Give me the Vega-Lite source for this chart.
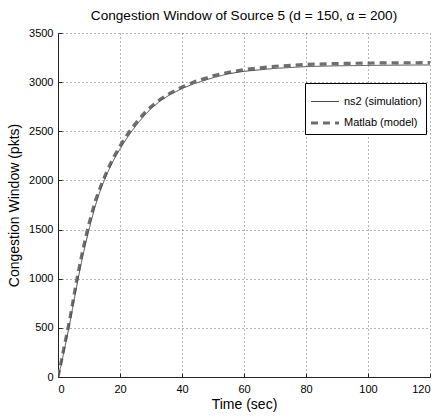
{
  "$schema": "https://vega.github.io/schema/vega-lite/v6.json",
  "width": 372,
  "height": 344,
  "autosize": {"type": "none"},
  "padding": {"left": 58, "top": 33, "right": 9, "bottom": 40},
  "background": "white",
  "title": {
    "text": "Congestion Window of Source 5 (d = 150, α = 200)",
    "font": "Liberation Sans",
    "fontSize": 13.6,
    "fontWeight": "normal",
    "color": "black",
    "anchor": "middle",
    "frame": "group",
    "offset": 4
  },
  "config": {
    "view": {"stroke": null},
    "font": "Liberation Sans",
    "axis": {
      "labelFont": "Liberation Sans",
      "titleFont": "Liberation Sans",
      "labelFontSize": 11,
      "titleFontSize": 14,
      "titleFontWeight": "normal",
      "labelColor": "black",
      "titleColor": "black",
      "domainColor": "#222",
      "domainWidth": 1,
      "tickColor": "#222",
      "tickSize": -4,
      "gridColor": "#666",
      "gridDash": [1, 3],
      "gridWidth": 1,
      "gridOpacity": 1,
      "format": "d"
    }
  },
  "data": {
    "values": [
      {"t": 0, "w": 0, "s": "Matlab (model)"},
      {"t": 1, "w": 150, "s": "Matlab (model)"},
      {"t": 2, "w": 310, "s": "Matlab (model)"},
      {"t": 3, "w": 460, "s": "Matlab (model)"},
      {"t": 4, "w": 620, "s": "Matlab (model)"},
      {"t": 5, "w": 800, "s": "Matlab (model)"},
      {"t": 6, "w": 980, "s": "Matlab (model)"},
      {"t": 7, "w": 1140, "s": "Matlab (model)"},
      {"t": 8, "w": 1290, "s": "Matlab (model)"},
      {"t": 9, "w": 1430, "s": "Matlab (model)"},
      {"t": 10, "w": 1560, "s": "Matlab (model)"},
      {"t": 12, "w": 1790, "s": "Matlab (model)"},
      {"t": 14, "w": 1960, "s": "Matlab (model)"},
      {"t": 16, "w": 2110, "s": "Matlab (model)"},
      {"t": 18, "w": 2240, "s": "Matlab (model)"},
      {"t": 20, "w": 2350, "s": "Matlab (model)"},
      {"t": 22, "w": 2450, "s": "Matlab (model)"},
      {"t": 24, "w": 2540, "s": "Matlab (model)"},
      {"t": 26, "w": 2620, "s": "Matlab (model)"},
      {"t": 28, "w": 2690, "s": "Matlab (model)"},
      {"t": 30, "w": 2750, "s": "Matlab (model)"},
      {"t": 33, "w": 2825, "s": "Matlab (model)"},
      {"t": 36, "w": 2885, "s": "Matlab (model)"},
      {"t": 40, "w": 2950, "s": "Matlab (model)"},
      {"t": 44, "w": 3005, "s": "Matlab (model)"},
      {"t": 50, "w": 3065, "s": "Matlab (model)"},
      {"t": 55, "w": 3100, "s": "Matlab (model)"},
      {"t": 60, "w": 3128, "s": "Matlab (model)"},
      {"t": 70, "w": 3162, "s": "Matlab (model)"},
      {"t": 80, "w": 3180, "s": "Matlab (model)"},
      {"t": 90, "w": 3189, "s": "Matlab (model)"},
      {"t": 100, "w": 3194, "s": "Matlab (model)"},
      {"t": 110, "w": 3197, "s": "Matlab (model)"},
      {"t": 120, "w": 3198, "s": "Matlab (model)"},
      {"t": 0, "w": 0, "s": "ns2 (simulation)"},
      {"t": 1, "w": 120, "s": "ns2 (simulation)"},
      {"t": 2, "w": 270, "s": "ns2 (simulation)"},
      {"t": 3, "w": 420, "s": "ns2 (simulation)"},
      {"t": 4, "w": 580, "s": "ns2 (simulation)"},
      {"t": 5, "w": 750, "s": "ns2 (simulation)"},
      {"t": 6, "w": 920, "s": "ns2 (simulation)"},
      {"t": 7, "w": 1080, "s": "ns2 (simulation)"},
      {"t": 8, "w": 1230, "s": "ns2 (simulation)"},
      {"t": 9, "w": 1370, "s": "ns2 (simulation)"},
      {"t": 10, "w": 1500, "s": "ns2 (simulation)"},
      {"t": 12, "w": 1740, "s": "ns2 (simulation)"},
      {"t": 14, "w": 1930, "s": "ns2 (simulation)"},
      {"t": 16, "w": 2080, "s": "ns2 (simulation)"},
      {"t": 18, "w": 2210, "s": "ns2 (simulation)"},
      {"t": 20, "w": 2320, "s": "ns2 (simulation)"},
      {"t": 22, "w": 2420, "s": "ns2 (simulation)"},
      {"t": 24, "w": 2510, "s": "ns2 (simulation)"},
      {"t": 26, "w": 2590, "s": "ns2 (simulation)"},
      {"t": 28, "w": 2665, "s": "ns2 (simulation)"},
      {"t": 30, "w": 2730, "s": "ns2 (simulation)"},
      {"t": 33, "w": 2810, "s": "ns2 (simulation)"},
      {"t": 36, "w": 2870, "s": "ns2 (simulation)"},
      {"t": 40, "w": 2935, "s": "ns2 (simulation)"},
      {"t": 44, "w": 2985, "s": "ns2 (simulation)"},
      {"t": 50, "w": 3045, "s": "ns2 (simulation)"},
      {"t": 55, "w": 3085, "s": "ns2 (simulation)"},
      {"t": 60, "w": 3110, "s": "ns2 (simulation)"},
      {"t": 70, "w": 3140, "s": "ns2 (simulation)"},
      {"t": 80, "w": 3158, "s": "ns2 (simulation)"},
      {"t": 90, "w": 3166, "s": "ns2 (simulation)"},
      {"t": 100, "w": 3170, "s": "ns2 (simulation)"},
      {"t": 110, "w": 3173, "s": "ns2 (simulation)"},
      {"t": 120, "w": 3175, "s": "ns2 (simulation)"}
    ]
  },
  "mark": {"type": "line", "clip": true},
  "encoding": {
    "x": {
      "field": "t",
      "type": "quantitative",
      "scale": {"domain": [0, 120], "nice": false},
      "axis": {"values": [0, 20, 40, 60, 80, 100, 120], "title": "Time (sec)", "labelPadding": 10, "titlePadding": 3}
    },
    "y": {
      "field": "w",
      "type": "quantitative",
      "scale": {"domain": [0, 3500], "nice": false},
      "axis": {"values": [0, 500, 1000, 1500, 2000, 2500, 3000, 3500], "title": "Congestion Window (pkts)", "labelPadding": 9, "titlePadding": 7}
    },
    "color": {
      "field": "s",
      "type": "nominal",
      "scale": {"domain": ["ns2 (simulation)", "Matlab (model)"], "range": ["#4a4a4a", "#6e6e6e"]},
      "legend": {
        "title": null,
        "orient": "none",
        "legendX": 247,
        "legendY": 50,
        "symbolType": "stroke",
        "symbolSize": 784,
        "labelFont": "Liberation Sans",
        "labelFontSize": 11,
        "labelColor": "black",
        "labelOffset": 3,
        "strokeColor": "black",
        "fillColor": "white",
        "padding": 4,
        "rowPadding": -7,
        "symbolOffset": 0
      }
    },
    "strokeDash": {
      "field": "s",
      "type": "nominal",
      "scale": {"domain": ["ns2 (simulation)", "Matlab (model)"], "range": [[1, 0], [7, 5]]},
      "legend": {"title": null}
    },
    "strokeWidth": {
      "field": "s",
      "type": "nominal",
      "scale": {"domain": ["ns2 (simulation)", "Matlab (model)"], "range": [1, 3.2]},
      "legend": {"title": null}
    }
  }
}
